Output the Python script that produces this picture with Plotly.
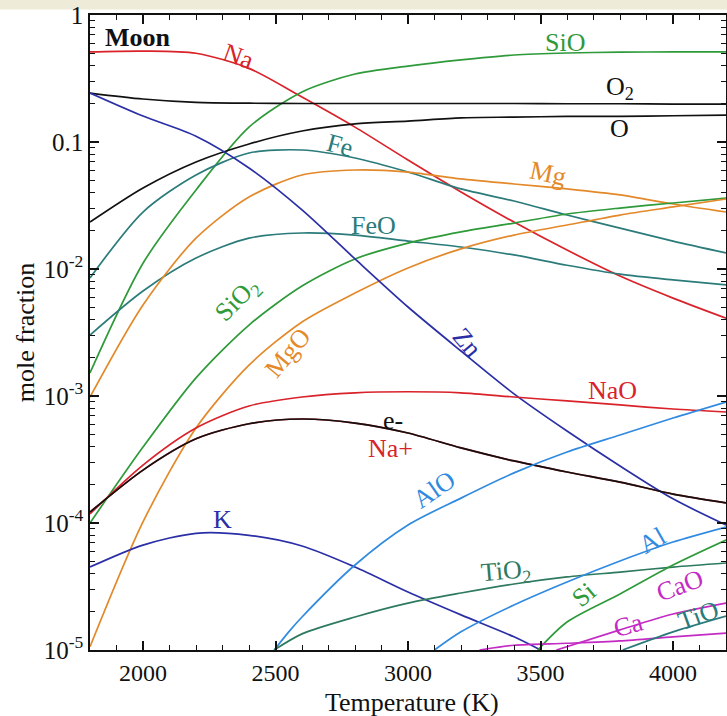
import plotly.graph_objects as go

# ---------------- data ----------------
T = [1800, 2000, 2200, 2400, 2600, 2800, 3000, 3200, 3400, 3600, 3800, 4000, 4200]

Na   = [0.512, 0.520, 0.500, 0.380, 0.226, 0.131, 0.0721, 0.0404, 0.0234, 0.0141, 0.0088, 0.0059, 0.0041]
SiO  = [1.52e-3, 0.0111, 0.0419, 0.131, 0.248, 0.343, 0.396, 0.443, 0.484, 0.502, 0.510, 0.512, 0.512]
O2   = [0.243, 0.218, 0.205, 0.202, 0.201, 0.201, 0.201, 0.201, 0.201, 0.200, 0.200, 0.199, 0.199]
O    = [0.0234, 0.0434, 0.0696, 0.0965, 0.122, 0.139, 0.146, 0.155, 0.157, 0.159, 0.159, 0.161, 0.163]
Fe   = [8.5e-3, 0.0281, 0.055, 0.0819, 0.0865, 0.0748, 0.058, 0.0427, 0.0343, 0.0266, 0.021, 0.0166, 0.0134]
FeO  = [3.02e-3, 6.71e-3, 0.0122, 0.0175, 0.0192, 0.0185, 0.0166, 0.0149, 0.0129, 0.0107, 9.1e-3, 8.2e-3, 7.5e-3]
Mg   = [9.8e-4, 5.21e-3, 0.0175, 0.0369, 0.055, 0.0602, 0.058, 0.0512, 0.0467, 0.0427, 0.0383, 0.0325, 0.0281]
SiO2 = [1.0e-4, 3.96e-4, 1.39e-3, 3.62e-3, 7.35e-3, 0.012, 0.016, 0.0196, 0.023, 0.0271, 0.0302, 0.0331, 0.0362]
MgO  = [1.06e-5, 1.02e-4, 5.6e-4, 1.75e-3, 3.83e-3, 6.47e-3, 0.0102, 0.0144, 0.0185, 0.0222, 0.0266, 0.0308, 0.0356]
Zn   = [0.243, 0.160, 0.111, 0.0624, 0.0292, 0.0120, 5.02e-3, 2.26e-3, 1.04e-3, 5.3e-4, 2.81e-4, 1.55e-4, 9.64e-5]
NaO  = [1.18e-4, 2.86e-4, 5.6e-4, 8.34e-4, 9.82e-4, 1.06e-3, 1.08e-3, 1.06e-3, 9.82e-4, 9.14e-4, 8.5e-4, 7.9e-4, 7.48e-4]
e_minus = [1.22e-4, 2.61e-4, 4.6e-4, 6.05e-4, 6.59e-4, 6.12e-4, 5.11e-4, 3.9e-4, 3.08e-4, 2.52e-4, 2.1e-4, 1.69e-4, 1.44e-4]
Na_plus = [1.22e-4, 2.61e-4, 4.6e-4, 6.05e-4, 6.59e-4, 6.12e-4, 5.11e-4, 3.9e-4, 3.08e-4, 2.52e-4, 2.1e-4, 1.69e-4, 1.44e-4]

T_K = [1800, 2000, 2200, 2400, 2600, 2800, 3000, 3200, 3400, 3500]
K   = [4.5e-5, 6.7e-5, 8.3e-5, 8.0e-5, 6.59e-5, 4.5e-5, 2.86e-5, 1.89e-5, 1.27e-5, 1.0e-5]

T_AlO = [2495, 2550, 2600, 2800, 3000, 3200, 3400, 3600, 3800, 4000, 4200]
AlO   = [1.0e-5, 1.39e-5, 1.82e-5, 4.67e-5, 9.64e-5, 1.57e-4, 2.48e-4, 3.62e-4, 4.93e-4, 6.71e-4, 8.97e-4]

T_TiO2 = [2495, 2600, 2800, 3000, 3200, 3400, 3600, 3800, 4000, 4200]
TiO2   = [1.0e-5, 1.34e-5, 1.82e-5, 2.34e-5, 2.81e-5, 3.31e-5, 3.76e-5, 4.11e-5, 4.5e-5, 4.84e-5]

T_Al = [3100, 3200, 3400, 3600, 3800, 4000, 4200]
Al   = [1.0e-5, 1.39e-5, 2.26e-5, 3.43e-5, 5.02e-5, 7.08e-5, 9.3e-5]

T_Si = [3490, 3600, 3800, 4000, 4200]
Si   = [1.0e-5, 1.66e-5, 2.76e-5, 4.67e-5, 7.35e-5]

T_Ca = [3270, 3400, 3600, 3800, 4000, 4200]
Ca   = [1.0e-5, 1.09e-5, 1.13e-5, 1.18e-5, 1.27e-5, 1.36e-5]

T_CaO = [3560, 3800, 4000, 4200]
CaO   = [1.0e-5, 1.44e-5, 1.92e-5, 2.34e-5]

T_TiO = [3810, 4000, 4200]
TiO   = [1.0e-5, 1.39e-5, 1.85e-5]

x_tickvals = [2000, 2500, 3000, 3500, 4000]
y_tickvals = [1e-5, 1e-4, 1e-3, 1e-2, 0.1, 1]
y_ticktext = ["10<sup>-5</sup>", "10<sup>-4</sup>", "10<sup>-3</sup>", "10<sup>-2</sup>", "0.1", "1"]

# ---------------- styles ----------------
RED = "#d9222a"
GREEN = "#2e9a3a"
BLACK = "#111111"
TEAL = "#2a7b7a"
ORANGE = "#e3892a"
NAVY = "#2b2fa6"
LBLUE = "#2f8ae0"
DGREEN = "#2d7a5e"
MAG = "#c42bc4"
FONT = "Liberation Serif"

series = [
    (T, Na_plus, RED), (T, Na, RED), (T, SiO, GREEN), (T, O2, BLACK), (T, O, BLACK),
    (T, Fe, TEAL), (T, FeO, TEAL), (T, Mg, ORANGE), (T, SiO2, GREEN), (T, MgO, ORANGE),
    (T, Zn, NAVY), (T, NaO, RED), (T, e_minus, BLACK), (T_K, K, NAVY),
    (T_AlO, AlO, LBLUE), (T_TiO2, TiO2, DGREEN), (T_Al, Al, LBLUE), (T_Si, Si, GREEN),
    (T_Ca, Ca, MAG), (T_CaO, CaO, MAG), (T_TiO, TiO, TEAL),
]

fig = go.Figure()
for xs, ys, col in series:
    fig.add_trace(go.Scatter(x=xs, y=ys, mode="lines",
                             line=dict(color=col, width=1.7, shape="spline", smoothing=0.8),
                             showlegend=False, hoverinfo="skip"))

# labels: (text, paper x, paper y, color, angle)
labels = [
    ("Na", 0.233, 0.934, RED, 20),
    ("SiO", 0.747, 0.957, GREEN, 0),
    ("O<sub>2</sub>", 0.833, 0.885, BLACK, 0),
    ("O", 0.833, 0.822, BLACK, 0),
    ("Fe", 0.393, 0.795, TEAL, 15),
    ("Mg", 0.720, 0.751, ORANGE, 12),
    ("FeO", 0.445, 0.668, TEAL, 0),
    ("SiO<sub>2</sub>", 0.233, 0.551, GREEN, -45),
    ("MgO", 0.311, 0.469, ORANGE, -50),
    ("Zn", 0.593, 0.485, NAVY, 50),
    ("NaO", 0.821, 0.409, RED, 0),
    ("e-", 0.476, 0.362, BLACK, 0),
    ("Na+", 0.472, 0.318, RED, 0),
    ("AlO", 0.542, 0.252, LBLUE, -35),
    ("K", 0.208, 0.205, NAVY, 0),
    ("TiO<sub>2</sub>", 0.654, 0.123, DGREEN, -5),
    ("Al", 0.884, 0.173, LBLUE, -30),
    ("Si", 0.777, 0.087, GREEN, -40),
    ("CaO", 0.928, 0.102, MAG, -20),
    ("Ca", 0.846, 0.038, MAG, -15),
    ("TiO", 0.957, 0.054, TEAL, -20),
]
for txt, px, py, col, ang in labels:
    fig.add_annotation(x=px, y=py, xref="paper", yref="paper", text=txt, showarrow=False,
                       xanchor="center", yanchor="middle",
                       font=dict(family=FONT, size=26, color=col), textangle=ang)

fig.add_annotation(x=0.020, y=0.964, xref="paper", yref="paper", text="<b>Moon</b>",
                   showarrow=False, xanchor="left", yanchor="middle",
                   font=dict(family=FONT, size=26, color=BLACK))

# x-axis title placed as an annotation
fig.add_annotation(x=0.506, y=-0.082, xref="paper", yref="paper", text="Temperature (K)",
                   showarrow=False, xanchor="center", yanchor="middle",
                   font=dict(family=FONT, size=26, color=BLACK))

# beige band at the very top of the picture
fig.add_shape(type="rect", xref="paper", yref="paper", x0=-0.2, x1=1.01,
              y0=1.0085, y1=1.03, fillcolor="#eeebd9", line=dict(width=0), layer="below")

minor_y = [k * 10.0 ** e for e in range(-5, 0) for k in range(2, 10)]

fig.update_layout(
    width=727, height=716,
    margin=dict(l=90, r=1, t=15, b=66),
    plot_bgcolor="white", paper_bgcolor="white",
    font=dict(family=FONT, size=25, color=BLACK),
    xaxis=dict(range=[1800, 4200], tickmode="array", tickvals=x_tickvals,
               ticks="inside", ticklen=9, tickwidth=1.5, tickcolor=BLACK,
               showline=True, linecolor=BLACK, linewidth=1.5, mirror="ticks",
               showgrid=False, zeroline=False, automargin=False,
               tickfont=dict(size=24),
               minor=dict(ticks="inside", ticklen=5, tickwidth=1.2, tickcolor=BLACK,
                          tickmode="linear", tick0=1800, dtick=100, showgrid=False)),
    yaxis=dict(type="log", range=[-5, 0], tickmode="array", tickvals=y_tickvals, ticktext=y_ticktext,
               ticks="inside", ticklen=9, tickwidth=1.5, tickcolor=BLACK,
               showline=True, linecolor=BLACK, linewidth=1.5, mirror="ticks",
               showgrid=False, zeroline=False, automargin=False,
               tickfont=dict(size=25),
               minor=dict(ticks="inside", ticklen=5, tickwidth=1.2, tickcolor=BLACK,
                          tickmode="array", tickvals=minor_y, showgrid=False),
               title=dict(text="mole fraction", standoff=2, font=dict(size=26))),
)

fig.write_html("out.html")
